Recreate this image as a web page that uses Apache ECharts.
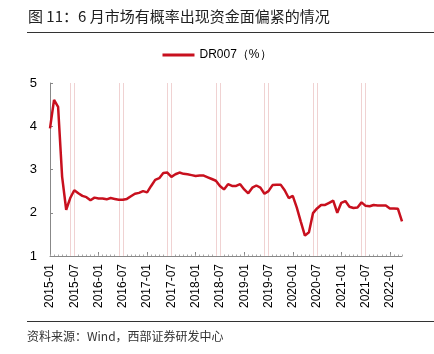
<!DOCTYPE html>
<html>
<head>
<meta charset="utf-8">
<script src="https://cdn.jsdelivr.net/npm/echarts@6/dist/echarts.min.js"></script>
<style>
  html, body { margin: 0; background: #fff; }
  #chart { width: 434px; height: 354px; }
</style>
</head>
<body>
<div id="chart"></div>
<script>
  // monthly categories 2015-01 .. 2022-04
  const months = []
  for (let y = 2015; y <= 2022; y++) {
    for (let m = 1; m <= 12; m++) {
      if (y === 2022 && m > 4) break
      months.push(y + "-" + String(m).padStart(2, "0"))
    }
  }

  const dr007 = [
    3.95, 4.61, 4.45, 2.83, 2.07, 2.34, 2.52, 2.45, 2.39, 2.36, 2.29, 2.35,
    2.33, 2.33, 2.31, 2.34, 2.32, 2.30, 2.30, 2.32, 2.38, 2.44, 2.46, 2.50,
    2.47, 2.62, 2.76, 2.80, 2.92, 2.93, 2.83, 2.89, 2.93, 2.90, 2.89, 2.87,
    2.85, 2.86, 2.86, 2.82, 2.78, 2.74, 2.62, 2.54, 2.66, 2.62, 2.62, 2.66,
    2.54, 2.45, 2.58, 2.63, 2.58, 2.44, 2.50, 2.64, 2.65, 2.65, 2.52, 2.34,
    2.39, 2.12, 1.79, 1.47, 1.55, 1.99, 2.10, 2.18, 2.18, 2.23, 2.28, 2.00,
    2.23, 2.27, 2.14, 2.11, 2.12, 2.24, 2.16, 2.15, 2.18, 2.17, 2.17, 2.17,
    2.10, 2.10, 2.09, 1.80,
  ]

  // June markers (start and end of June each year)
  const juneMarks = [
    "2015-06", "2015-07", "2016-06", "2016-07", "2017-06", "2017-07",
    "2018-06", "2018-07", "2019-06", "2019-07", "2020-06", "2020-07",
    "2021-06", "2021-07",
  ]

  const cjk = '"Noto Sans CJK SC", sans-serif'
  const latin = '"Liberation Sans", Arial, sans-serif'

  const option = {
    animation: false,
    backgroundColor: "#fff",
    textStyle: { fontFamily: latin },
    grid: { left: 50, right: 32, top: 83, bottom: 98 },
    legend: {
      top: 44,
      left: "center",
      icon: "rect",
      itemWidth: 32,
      itemHeight: 3,
      itemGap: 4,
      textStyle: { fontSize: 12, color: "#000", fontFamily: latin },
      data: ["DR007（%）"],
    },
    graphic: [
      {
        type: "text",
        left: 28,
        top: 9,
        style: { text: "图 11：6 月市场有概率出现资金面偏紧的情况", font: "15px " + cjk, fill: "#222" },
      },
      {
        type: "line",
        shape: { x1: 27, y1: 32.5, x2: 434, y2: 32.5 },
        style: { stroke: "#333", lineWidth: 1 },
      },
      {
        type: "line",
        shape: { x1: 27, y1: 321.5, x2: 434, y2: 321.5 },
        style: { stroke: "#333", lineWidth: 1 },
      },
      {
        type: "text",
        left: 27,
        top: 330,
        style: { text: "资料来源：Wind，西部证券研发中心", font: "12px " + cjk, fill: "#333" },
      },
    ],
    xAxis: [
      {
        type: "category",
        data: months,
        boundaryGap: false,
        axisLine: { lineStyle: { color: "#888" } },
        axisTick: { inside: true, length: 4, interval: 5, lineStyle: { color: "#888" } },
        axisLabel: { interval: 5, rotate: 90, fontSize: 12, color: "#000", margin: 8 },
        splitLine: { show: false },
      },
      {
        type: "category",
        data: months,
        position: "bottom",
        boundaryGap: false,
        axisLine: { show: false },
        axisTick: { inside: true, length: 1.5, interval: 0, lineStyle: { color: "#aaa" } },
        axisLabel: { show: false },
        splitLine: { show: false },
      },
    ],
    yAxis: {
      type: "value",
      min: 1,
      max: 5,
      interval: 1,
      axisLine: { show: true, lineStyle: { color: "#888" } },
      axisTick: { show: true, inside: true, length: 3, lineStyle: { color: "#888" } },
      axisLabel: { fontSize: 13, color: "#000", margin: 13 },
      splitLine: { show: false },
    },
    series: [
      {
        name: "june",
        type: "line",
        data: [],
        z: 1,
        markLine: {
          silent: true,
          symbol: "none",
          label: { show: false },
          lineStyle: { color: "#f0d2d2", width: 1, type: "solid" },
          data: juneMarks.map((m) => ({ xAxis: m })),
        },
      },
      {
        name: "DR007（%）",
        type: "line",
        data: dr007,
        showSymbol: false,
        lineStyle: { color: "#c8101e", width: 2.5 },
        itemStyle: { color: "#c8101e" },
        z: 5,
      },
    ],
  }

  const myChart = echarts.init(document.getElementById("chart"))
  myChart.setOption(option)
</script>
</body>
</html>
